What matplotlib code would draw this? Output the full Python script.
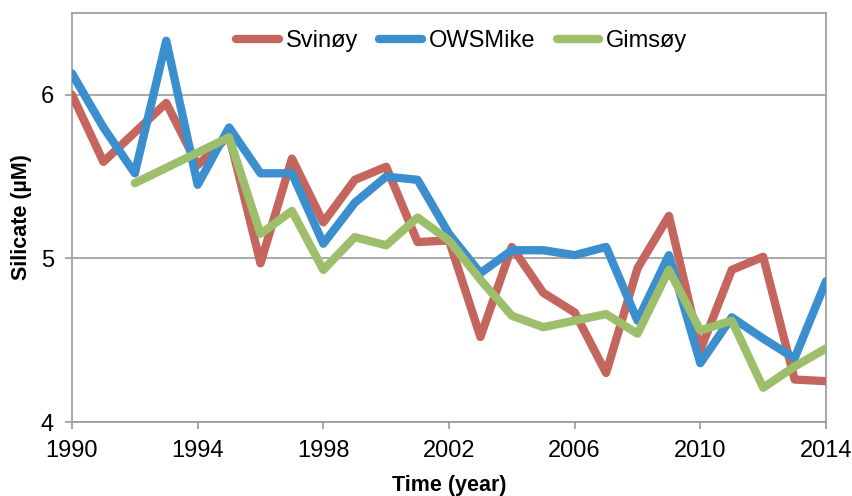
import matplotlib
matplotlib.use('Agg')
import matplotlib.pyplot as plt
import numpy as np

# data
years = list(range(1990, 2015))
svinoy = [6.00, 5.59, 5.77, 5.95, 5.57, 5.75, 4.97, 5.61, 5.22, 5.48, 5.56, 5.10, 5.11,
          4.52, 5.07, 4.79, 4.67, 4.30, 4.94, 5.26, 4.44, 4.93, 5.01, 4.26, 4.25]
owsmike = [6.13, 5.80, 5.52, 6.33, 5.45, 5.80, 5.52, 5.52, 5.09, 5.34, 5.50, 5.48, 5.15,
           4.91, 5.05, 5.05, 5.02, 5.07, 4.62, 5.02, 4.36, 4.64, 4.51, 4.39, 4.86]
gims_years = [1992, 1995, 1996, 1997, 1998, 1999, 2000, 2001, 2002, 2003, 2004, 2005,
              2006, 2007, 2008, 2009, 2010, 2011, 2012, 2013, 2014]
gimsoy = [5.46, 5.74, 5.15, 5.29, 4.93, 5.13, 5.08, 5.25, 5.11, 4.87, 4.65, 4.58,
          4.62, 4.66, 4.54, 4.93, 4.56, 4.62, 4.21, 4.34, 4.45]

plt.rcParams['font.family'] = ['Liberation Sans', 'DejaVu Sans']

fig = plt.figure(figsize=(8.52, 4.96), dpi=100)
ax = fig.add_axes([0.0845, 0.149, 0.885, 0.825])

lw = 6
ax.plot(years, svinoy, color='#C4665E', lw=lw, solid_capstyle='round', solid_joinstyle='round', label='Svinøy', zorder=3)
ax.plot(years, owsmike, color='#3B8FCF', lw=lw, solid_capstyle='round', solid_joinstyle='round', label='OWSMike', zorder=4)
ax.plot(gims_years, gimsoy, color='#9DBF6B', lw=lw, solid_capstyle='round', solid_joinstyle='round', label='Gimsøy', zorder=5)

ax.set_xlim(1990, 2014)
ax.set_ylim(4, 6.5)
ax.set_xticks(range(1990, 2015, 4))
ax.set_yticks([4, 5, 6])
ax.yaxis.grid(True, color='#9A9A9A', lw=1.2)
ax.set_axisbelow(True)
for s in ax.spines.values():
    s.set_color('#9A9A9A')
    s.set_linewidth(1.2)
ax.tick_params(axis='both', colors='#9A9A9A', labelcolor='black', labelsize=17, length=5, width=1.2)
ax.tick_params(axis='x', pad=8)
ax.tick_params(axis='y', pad=8)

ax.set_xlabel('Time (year)', fontsize=15.5, fontweight='bold', labelpad=9)
ax.set_ylabel('Silicate (µM)', fontsize=15.5, fontweight='bold', labelpad=6)

ax.legend(loc='upper center', ncol=3, frameon=False, fontsize=17, handlelength=1.8,
          columnspacing=0.9, handletextpad=0.3, bbox_to_anchor=(0.517, 1.01))

fig.savefig('out.png', dpi=100)
